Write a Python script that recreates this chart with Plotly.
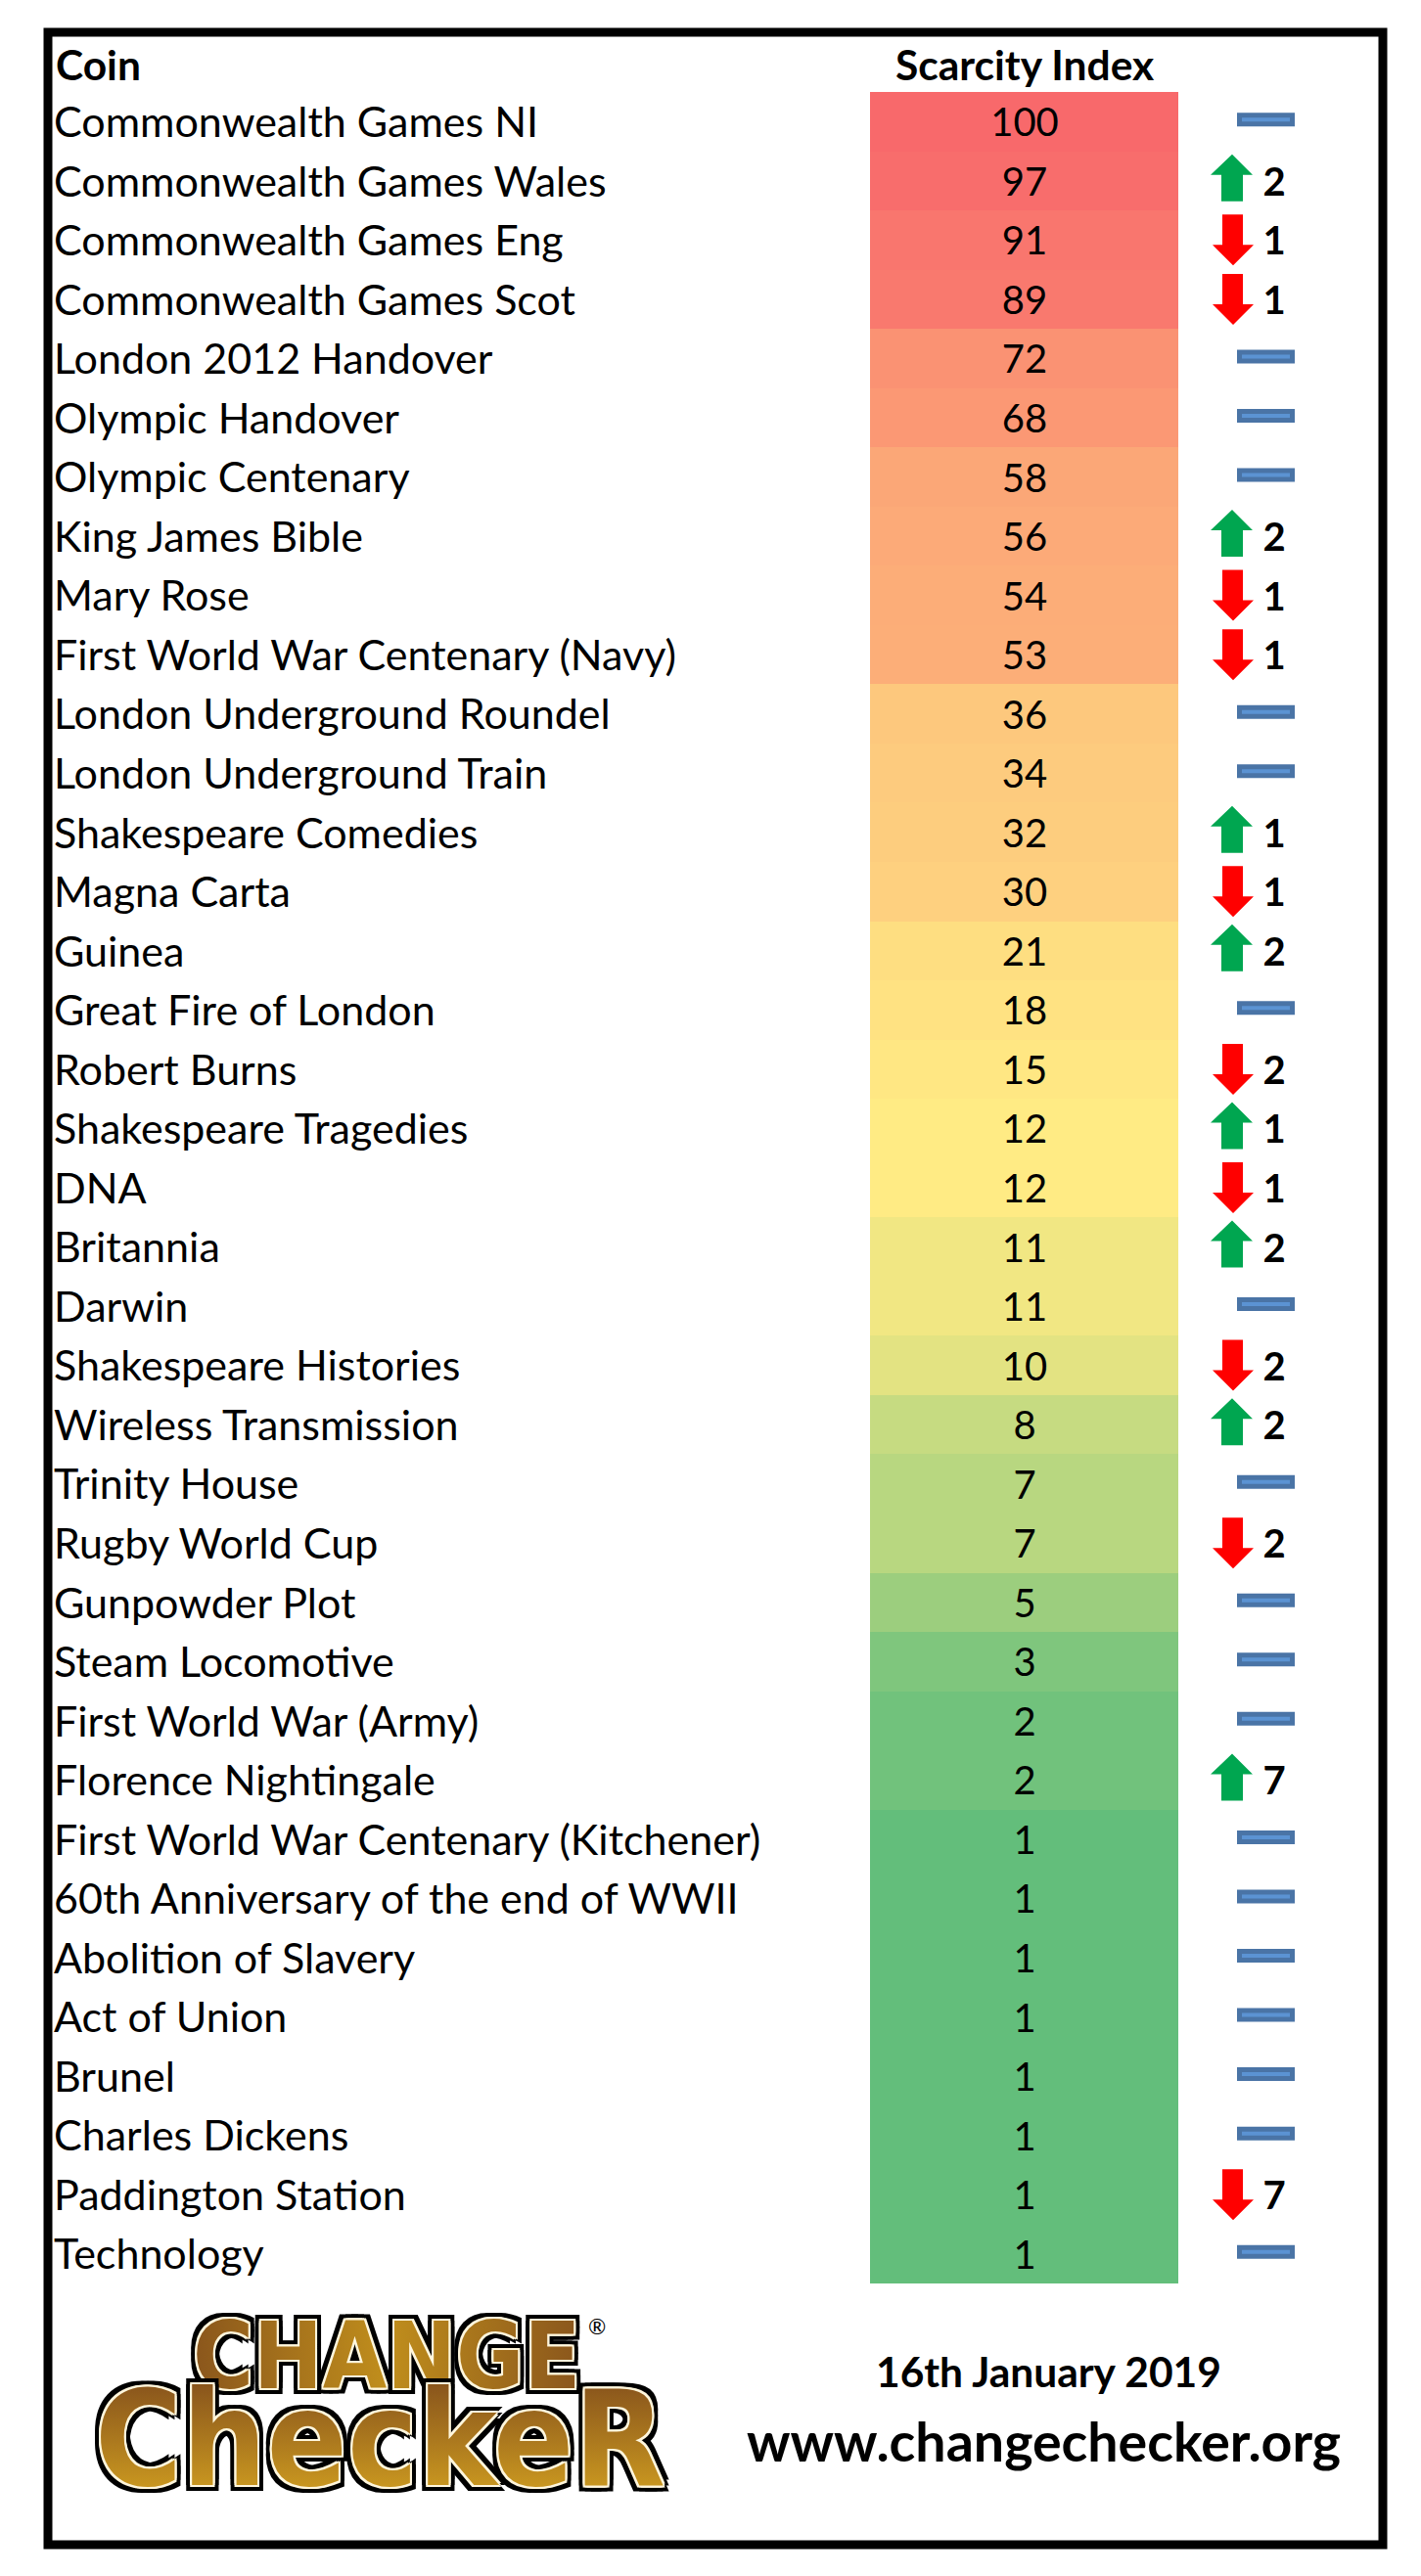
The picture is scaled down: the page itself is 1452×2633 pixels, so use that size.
import plotly.graph_objects as go

coins = ["Commonwealth Games NI", "Commonwealth Games Wales", "Commonwealth Games Eng",
         "Commonwealth Games Scot", "London 2012 Handover", "Olympic Handover",
         "Olympic Centenary", "King James Bible", "Mary Rose",
         "First World War Centenary (Navy)", "London Underground Roundel",
         "London Underground Train", "Shakespeare Comedies", "Magna Carta", "Guinea",
         "Great Fire of London", "Robert Burns", "Shakespeare Tragedies", "DNA",
         "Britannia", "Darwin", "Shakespeare Histories", "Wireless Transmission",
         "Trinity House", "Rugby World Cup", "Gunpowder Plot", "Steam Locomotive",
         "First World War (Army)", "Florence Nightingale",
         "First World War Centenary (Kitchener)", "60th Anniversary of the end of WWII",
         "Abolition of Slavery", "Act of Union", "Brunel", "Charles Dickens",
         "Paddington Station", "Technology"]
scarcity = [100, 97, 91, 89, 72, 68, 58, 56, 54, 53, 36, 34, 32, 30, 21, 18, 15, 12, 12,
            11, 11, 10, 8, 7, 7, 5, 3, 2, 2, 1, 1, 1, 1, 1, 1, 1, 1]
# change in rank, + up, - down, 0 no change
change = [0, 2, -1, -1, 0, 0, 0, 2, -1, -1, 0, 0, 1, -1, 2, 0, -2, 1, -1,
          2, 0, -2, 2, 0, -2, 0, 0, 0, 7, 0, 0, 0, 0, 0, 0, -7, 0]

W, H = 1452, 2633
ROW0, PITCH = 124.27, 60.54
TEXT_DROP = 5 / PITCH  # text sits a little below the row centre
rows = list(range(len(coins)))


def row_of(px):
    return (px - ROW0) / PITCH


def arrows(direction):
    # block arrows, one polygon per row, offsets in rows
    xs, ys = [], []
    for r, c in zip(rows, change):
        if c * direction <= 0:
            continue
        if direction > 0:
            px = [1259, 1280, 1270, 1270, 1248, 1248, 1237, 1259]
            py = [-27, -6, -6, 21, 21, -6, -6, -27]
        else:
            px = [1249, 1270, 1270, 1281, 1260, 1239, 1249, 1249]
            py = [-26, -26, 5, 5, 26, 5, 5, -26]
        xs += px + [None]
        ys += [r + v / PITCH for v in py] + [None]
    return xs, ys


fig = go.Figure()

fig.add_trace(go.Heatmap(
    z=[[v] for v in scarcity], x0=1046.5, dx=315, y=rows,
    zmin=1, zmax=100, showscale=False, hoverinfo="skip",
    colorscale=[[0, "#63BE7B"], [11 / 99, "#FFEB84"], [1, "#F8696B"]],
))

fig.add_trace(go.Scatter(x=[1047] * len(rows), y=[r + TEXT_DROP for r in rows],
                         text=[str(v) for v in scarcity], mode="text",
                         textposition="middle center", hoverinfo="skip",
                         textfont=dict(family="Lato", size=40, color="#000000")))

fig.add_trace(go.Scatter(x=[55] * len(coins), y=[r + TEXT_DROP for r in rows], text=coins,
                         mode="text", textposition="middle right", hoverinfo="skip",
                         textfont=dict(family="Lato", size=43, color="#000000")))

# no-change dashes
dash_rows = [r for r, c in zip(rows, change) if c == 0]
for colour, width, x0, x1, off in [("#4A74A6", 14, 1264, 1323, -2), ("#5B93D3", 4, 1269, 1318, -2)]:
    xs, ys = [], []
    for r in dash_rows:
        xs += [x0, x1, None]
        ys += [r + off / PITCH, r + off / PITCH, None]
    fig.add_trace(go.Scatter(x=xs, y=ys, mode="lines", hoverinfo="skip",
                             line=dict(color=colour, width=width)))

for direction, colour in [(1, "#00A650"), (-1, "#FF0000")]:
    xs, ys = arrows(direction)
    fig.add_trace(go.Scatter(x=xs, y=ys, mode="lines", fill="toself", fillcolor=colour,
                             line=dict(width=0), hoverinfo="skip"))

moved = [(r, c) for r, c in zip(rows, change) if c != 0]
fig.add_trace(go.Scatter(x=[1302] * len(moved), y=[m[0] + TEXT_DROP for m in moved],
                         text=[str(abs(m[1])) for m in moved], mode="text",
                         textposition="middle center", hoverinfo="skip",
                         textfont=dict(family="Lato", size=40, color="#000000", weight="bold")))

# header and footer text
head = [("Coin", 55, 65, "left", 42.5), ("Scarcity Index", 1047, 65, "center", 42.5),
        ("16th January 2019", 1071, 2423, "center", 42.5),
        ("www.changechecker.org", 1066, 2494, "center", 55.5)]
for txt, x, y, anchor, size in head:
    fig.add_annotation(x=x, y=row_of(y), text=txt, showarrow=False, xanchor=anchor,
                       yanchor="middle", font=dict(family="Lato", size=size, color="#000000", weight="bold"))

# logo as lettering
halo = ",".join(f"{dx}px {dy}px 0 {c}" for c, d in [("#FFF6DC", 2), ("#000000", 6)]
                for dx in (-d, 0, d) for dy in (-d, 0, d))
for txt, x, y, size in [("CHANGE", 395, 2408, 94), ("CheckeR", 388, 2493, 135)]:
    fig.add_annotation(x=x, y=row_of(y), text=txt, showarrow=False, xanchor="center",
                       yanchor="middle", font=dict(family="DejaVu Sans Condensed", size=size,
                                                   color="#A8751F", weight="bold", shadow=halo))
fig.add_annotation(x=610, y=row_of(2377), text="®", showarrow=False,
                   font=dict(family="Lato", size=22, color="#000000"))

# black frame
fig.add_shape(type="rect", xref="x", yref="y", x0=49, x1=1413, y0=row_of(33), y1=row_of(2601),
              line=dict(color="#000000", width=9), fillcolor="rgba(0,0,0,0)")

fig.update_xaxes(range=[0, W], visible=False, fixedrange=True)
fig.update_yaxes(range=[row_of(H), row_of(0)], visible=False, fixedrange=True)
fig.update_layout(width=W, height=H, margin=dict(l=0, r=0, t=0, b=0), showlegend=False,
                  paper_bgcolor="#FFFFFF", plot_bgcolor="#FFFFFF")

# page margin off, gold gradients on the logo lettering
post = """
document.body.style.margin='0';
var svg = document.querySelector('svg.main-svg');
var ns = 'http://www.w3.org/2000/svg';
function grad(id, x2, y2, stops) {
  var g = document.createElementNS(ns, 'linearGradient');
  g.id = id; g.setAttribute('x2', x2); g.setAttribute('y2', y2);
  stops.forEach(function (s) {
    var e = document.createElementNS(ns, 'stop');
    e.setAttribute('offset', s[0]); e.setAttribute('stop-color', s[1]);
    g.appendChild(e);
  });
  svg.appendChild(g);
}
grad('logoTop', 1, 0, [[0, '#8A561C'], [0.5, '#C08E1C'], [1, '#8A561C']]);
grad('logoBottom', 0, 1, [[0.15, '#8A561C'], [0.85, '#CC9A20']]);
document.querySelectorAll('.annotation-text').forEach(function (t) {
  if (t.textContent === 'CHANGE') t.style.fill = 'url(#logoTop)';
  if (t.textContent === 'CheckeR') t.style.fill = 'url(#logoBottom)';
});
"""
fig.write_html("out.html", post_script=post, config={"displayModeBar": False})
